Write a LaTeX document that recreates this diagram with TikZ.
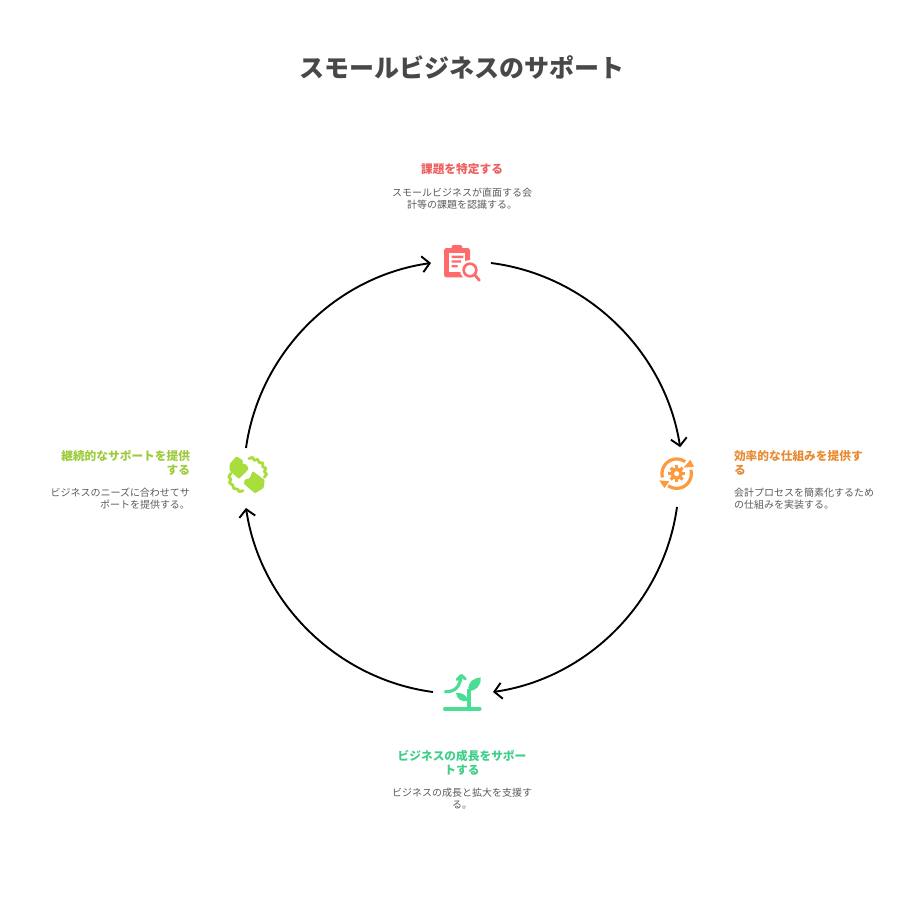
\documentclass[tikz,border=0pt]{standalone}
\usepackage{fontspec}
\setmainfont{Noto Sans CJK JP}
\usetikzlibrary{arrows.meta}
\definecolor{redI}{HTML}{FF6B6B}\definecolor{redT}{HTML}{EE5F5F}
\definecolor{orgI}{HTML}{FF9A3C}\definecolor{orgT}{HTML}{E88B33}
\definecolor{grnI}{HTML}{4ADE95}\definecolor{grnT}{HTML}{3FCF88}
\definecolor{limI}{HTML}{A8DE3C}\definecolor{limT}{HTML}{9CCB3C}
\definecolor{txt}{HTML}{5A5A5A}\definecolor{ttl}{HTML}{484848}
\tikzset{
  every node/.style={inner sep=0pt,outer sep=0pt},
  titlebox/.style={font=\fontsize{25}{30}\selectfont\bfseries,text=ttl},
  headbox/.style={font=\fontsize{11.7}{14.5}\selectfont\bfseries},
  descbox/.style={font=\fontsize{10}{12}\selectfont,text=txt},
  iconspot/.style={circle,minimum size=60pt},
  link/.style={line width=1.9pt,black,-{Straight Barb[length=7.5pt,width=16pt,line width=1.9pt]},bend left=37,looseness=.94},
  iconarea/.style={x=.33333pt,y=-.33333pt},
}
\begin{document}
\begin{tikzpicture}[x=1pt,y=-1pt]
\useasboundingbox (0,0) rectangle (924,900);
\node[titlebox] (title) at (462,67) {スモールビジネスのサポート};

\node[iconspot] (i1) at (461,263) {};
\node[iconspot] (i2) at (677,477) {};
\node[iconspot] (i3) at (463,692) {};
\node[iconspot] (i4) at (246,478) {};

\draw[link] (i1.east) to (i2.84);
\draw[link] (i2.south) to (i3.east);
\draw[link] (i3.west) to (i4.south);
\draw[link] (i4.north) to (i1.west);

\node[headbox,text=redT,align=center] (h1) at (462,169) {課題を特定する};
\node[descbox,align=center] (d1) at (462,199) {スモールビジネスが直面する会\\計等の課題を認識する。};
\node[headbox,text=orgT,align=left,anchor=west] (h2) at (734,463) {効率的な仕組みを提供す\\る};
\node[descbox,align=left,anchor=west] (d2) at (734,499) {会計プロセスを簡素化するため\\の仕組みを実装する。};
\node[headbox,text=grnT,align=center] (h3) at (462,763) {ビジネスの成長をサポー\\トする};
\node[descbox,align=center] (d3) at (462,799) {ビジネスの成長と拡大を支援す\\る。};
\node[headbox,text=limT,align=right,anchor=east] (h4) at (190,463) {継続的なサポートを提供\\する};
\node[descbox,align=right,anchor=east] (d4) at (190,499) {ビジネスのニーズに合わせてサ\\ポートを提供する。};

% clipboard icon
\begin{scope}[shift={(436,238)},iconarea]
  \fill[redI,rounded corners=1.5pt] (47,33) -- (47,21) -- (79,21) -- (79,33) -- cycle;
  \fill[redI,rounded corners=2.5pt] (24,30) rectangle (102,118);
  \fill[white] (40,44) rectangle (88,103);
  \fill[redI] (47,53) rectangle (82,60) (47,67) rectangle (75,74) (47,81) rectangle (65,88);
  \fill[white] (102,96) circle[radius=30];
  \draw[redI,line width=2.6pt] (102,96) circle[radius=19];
  \draw[redI,line width=2.8pt,line cap=round] (116,110) -- (130,127);
\end{scope}

% gear and circular arrows icon
\begin{scope}[shift={(652,450)},iconarea]
  \draw[orgI,line width=3.2pt] plot[domain=165:305,samples=30] ({74+44*cos(\x)},{71+44*sin(\x)});
  \draw[orgI,line width=3.2pt] plot[domain=-15:125,samples=30] ({74+44*cos(\x)},{71+44*sin(\x)});
  \fill[orgI] (22,91) -- (52,94) -- (37,114) -- cycle;
  \fill[orgI] (95,53) -- (126,50) -- (115,29) -- cycle;
  \fill[orgI] (74,71) circle[radius=18];
  \foreach \a in {0,45,...,315}
    \draw[orgI,line width=3.2pt] ({74+12*cos(\a)},{71+12*sin(\a)}) -- ({74+25*cos(\a)},{71+25*sin(\a)});
  \fill[white] (74,71) circle[radius=7.5];
\end{scope}

% sprout icon
\begin{scope}[shift={(437,668)},iconarea]
  \draw[grnI,line width=4pt,line cap=round] (24,122) -- (128,122);
  \draw[grnI,line width=3.2pt] (96,122) -- (96,62);
  \fill[grnI] (95,68) .. controls (90,40) and (112,30) .. (131,28) .. controls (133,52) and (118,70) .. (95,68) -- cycle;
  \fill[grnI] (93,99) .. controls (92,82) and (72,72) .. (57,75) .. controls (58,92) and (75,104) .. (93,99) -- cycle;
  \draw[grnI,line width=3.2pt,line cap=round] (25,71) .. controls (55,72) and (68,55) .. (72,27);
  \draw[grnI,line width=3pt,line cap=round,line join=round] (60,35) -- (73,22) -- (85,33);
\end{scope}

% partnership icon
\begin{scope}[shift={(221,450)},iconarea]
  \fill[limI,rounded corners=1pt] (46,19) -- (66,31) -- (64,41) -- (77,44) -- (83,57) -- (54,87) -- (26,62) -- (26,42) -- cycle;
  \fill[limI,rounded corners=1pt] (95,63) -- (131,90) -- (128,114) -- (102,130) -- (68,101) -- (72,88) -- (86,85) -- cycle;
  \draw[limI,line width=2.8pt,line join=round,line cap=round]
    (84,26) -- (94,22) -- (100,31) -- (110,28) -- (115,38) -- (125,38) -- (125,50) -- (135,55) -- (130,65) -- (137,72) -- (130,82);
  \draw[limI,line width=2.8pt,line join=round,line cap=round]
    (30,70) -- (23,80) -- (30,88) -- (25,98) -- (35,105) -- (38,115) -- (50,118) -- (55,125) -- (66,122);
\end{scope}
\end{tikzpicture}
\end{document}
